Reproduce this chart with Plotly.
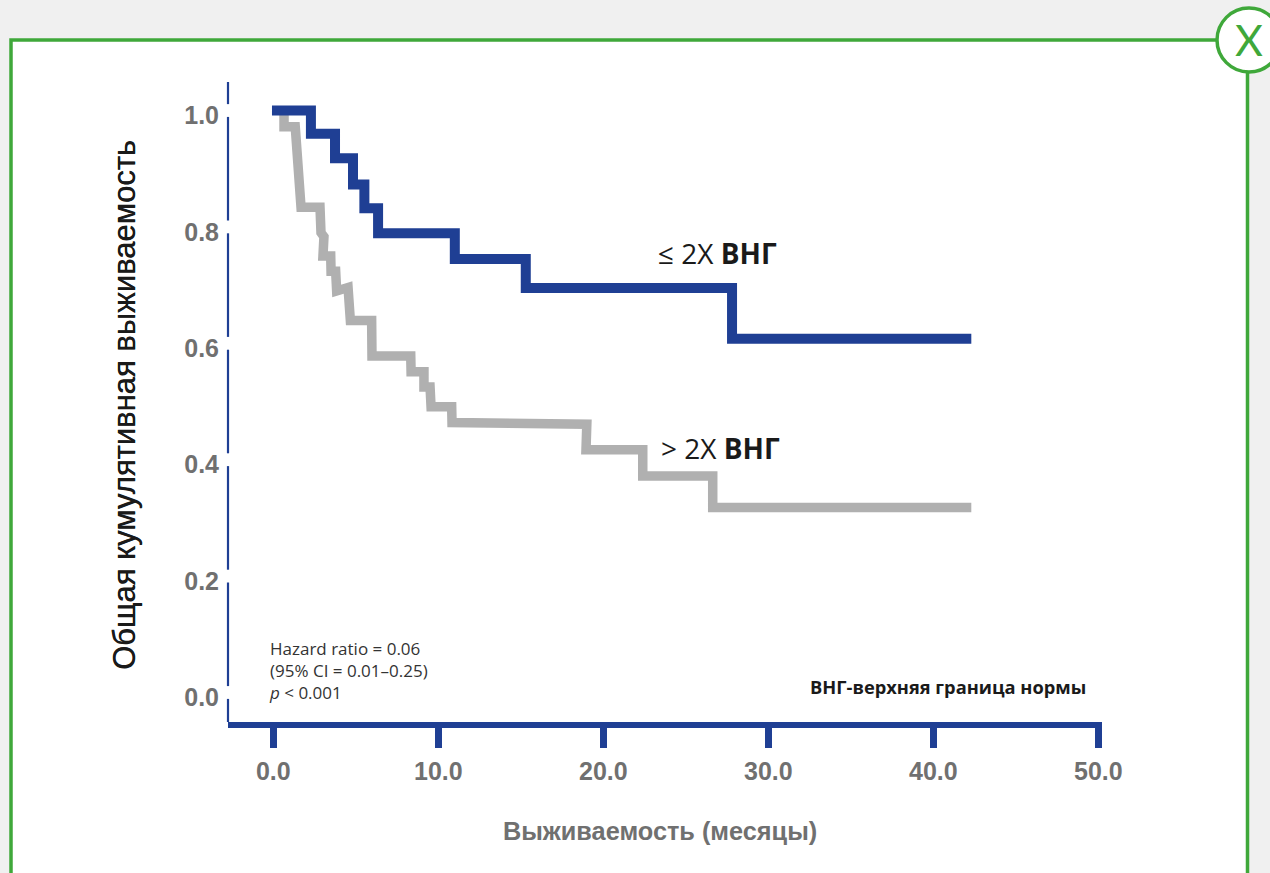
import plotly.graph_objects as go

W, H = 1270, 873
L, R, T, B = 228, 1102, 82, 722

x_ticks = [0, 10, 20, 30, 40, 50]
x_labels = ["0.0", "10.0", "20.0", "30.0", "40.0", "50.0"]
y_ticks = [0, 0.2, 0.4, 0.6, 0.8, 1.0]
y_labels = ["0.0", "0.2", "0.4", "0.6", "0.8", "1.0"]

low_t = [-0.08, 2.28, 2.28, 3.74, 3.74, 4.83, 4.83, 5.52, 5.52, 6.35, 6.35, 11.0, 11.0, 15.3, 15.3, 27.8, 27.8, 42.3]
low_s = [1.0, 1.0, 0.96, 0.96, 0.918, 0.918, 0.873, 0.873, 0.832, 0.832, 0.789, 0.789, 0.745, 0.745, 0.695, 0.695, 0.608, 0.608]

high_t = [0.65, 0.65, 1.33, 1.68, 2.83, 2.89, 3.07, 3.01, 3.48, 3.5, 3.78, 3.84, 4.53, 4.67, 5.96, 5.98, 8.33, 8.35, 9.13, 9.13, 9.5, 9.56, 10.81, 10.83, 19.0, 18.95, 22.39, 22.39, 26.63, 26.63, 42.3]
high_s = [1.0, 0.972, 0.972, 0.834, 0.834, 0.79, 0.783, 0.75, 0.75, 0.724, 0.724, 0.69, 0.696, 0.639, 0.639, 0.578, 0.578, 0.551, 0.551, 0.525, 0.525, 0.491, 0.491, 0.464, 0.461, 0.417, 0.417, 0.372, 0.372, 0.318, 0.318]

BLUE = "#1f3f94"
GRAY = "#b0b0b0"
GREEN = "#3fa83a"
TICKGRAY = "#707070"

def px(x):
    return (x - L) / (R - L)

def py(y):
    return (B - y) / (B - T)

fig = go.Figure()
fig.add_trace(go.Scatter(x=high_t, y=high_s, mode="lines", name="> 2X ВНГ",
                         line=dict(color=GRAY, width=9.5), showlegend=False))
fig.add_trace(go.Scatter(x=low_t, y=low_s, mode="lines", name="≤ 2X ВНГ",
                         line=dict(color=BLUE, width=10), showlegend=False))

shapes = [
    dict(type="rect", xref="paper", yref="paper", layer="below",
         x0=px(11), x1=px(1247.5), y0=py(40), y1=py(900),
         fillcolor="white", line=dict(color=GREEN, width=3.5)),
    dict(type="circle", xref="paper", yref="paper", layer="above",
         x0=px(1217), x1=px(1281), y0=py(8), y1=py(72),
         fillcolor="white", line=dict(color=GREEN, width=3.5)),
]
# Left axis: segments broken at every tick value
gap = 0.011
edges = [-0.0507] + [v for t in y_ticks for v in (t - gap, t + gap)] + [1.049]
for a, b in zip(edges[0::2], edges[1::2]):
    shapes.append(dict(type="line", xref="x domain", yref="y", x0=0, x1=0, y0=a, y1=b,
                       layer="above", line=dict(color=BLUE, width=2.2)))

def note(x, y, text, size, color="#222222", family="Open Sans", anchor="left"):
    return dict(xref="paper", yref="paper", x=px(x), y=py(y), text=text, showarrow=False,
                xanchor=anchor, yanchor="middle", align="left",
                font=dict(family=family, size=size, color=color))

annotations = [
    note(656, 253, "≤ 2X <b>ВНГ</b>", 28, "#1a1a1a"),
    note(659, 448, "&gt; 2X <b>ВНГ</b>", 28, "#1a1a1a"),
    note(267, 670.5, "Hazard ratio = 0.06<br>(95% CI = 0.01–0.25)<br><i>p</i> &lt; 0.001", 17, "#333333"),
    note(808, 686, "<b>ВНГ-верхняя граница нормы</b>", 18.3, "#1a1a1a"),
    note(660, 831, "<b>Выживаемость (месяцы)</b>", 25.3, TICKGRAY, "Liberation Sans", "center"),
    note(1249, 40, "X", 43, GREEN, "Lato", "center"),
    dict(xref="paper", yref="paper", x=px(124), y=py(405), text="Общая кумулятивная выживаемость",
         showarrow=False, textangle=-90, xanchor="center", yanchor="middle",
         font=dict(family="Liberation Sans", size=31, color="#1a1a1a", shadow="0.4px 0 0 #1a1a1a")),
]

fig.update_layout(
    width=W, height=H, autosize=False,
    margin=dict(l=L, r=W - R, t=T, b=H - B, pad=0),
    paper_bgcolor="#f0f0f0", plot_bgcolor="rgba(0,0,0,0)",
    showlegend=False, shapes=shapes, annotations=annotations,
    xaxis=dict(range=[-2.745, 50.22], tickmode="array", tickvals=x_ticks, ticktext=x_labels,
               showgrid=False, zeroline=False, showline=True, linecolor=BLUE, linewidth=6,
               ticks="outside", ticklen=20, tickwidth=7, tickcolor=BLUE,
               ticklabelstandoff=2,
               tickfont=dict(family="Liberation Sans", size=25, color=TICKGRAY, weight="bold")),
    yaxis=dict(range=[-0.0507, 1.049], tickmode="array", tickvals=y_ticks, ticktext=y_labels,
               showgrid=False, zeroline=False, showline=False, ticks="",
               ticklabelstandoff=8, ticklabelshift=5,
               tickfont=dict(family="Liberation Sans", size=25, color=TICKGRAY, weight="bold")),
)

fig.write_html("out.html", config={"displayModeBar": False},
               post_script="document.body.style.margin='0';document.body.style.overflow='hidden';")
